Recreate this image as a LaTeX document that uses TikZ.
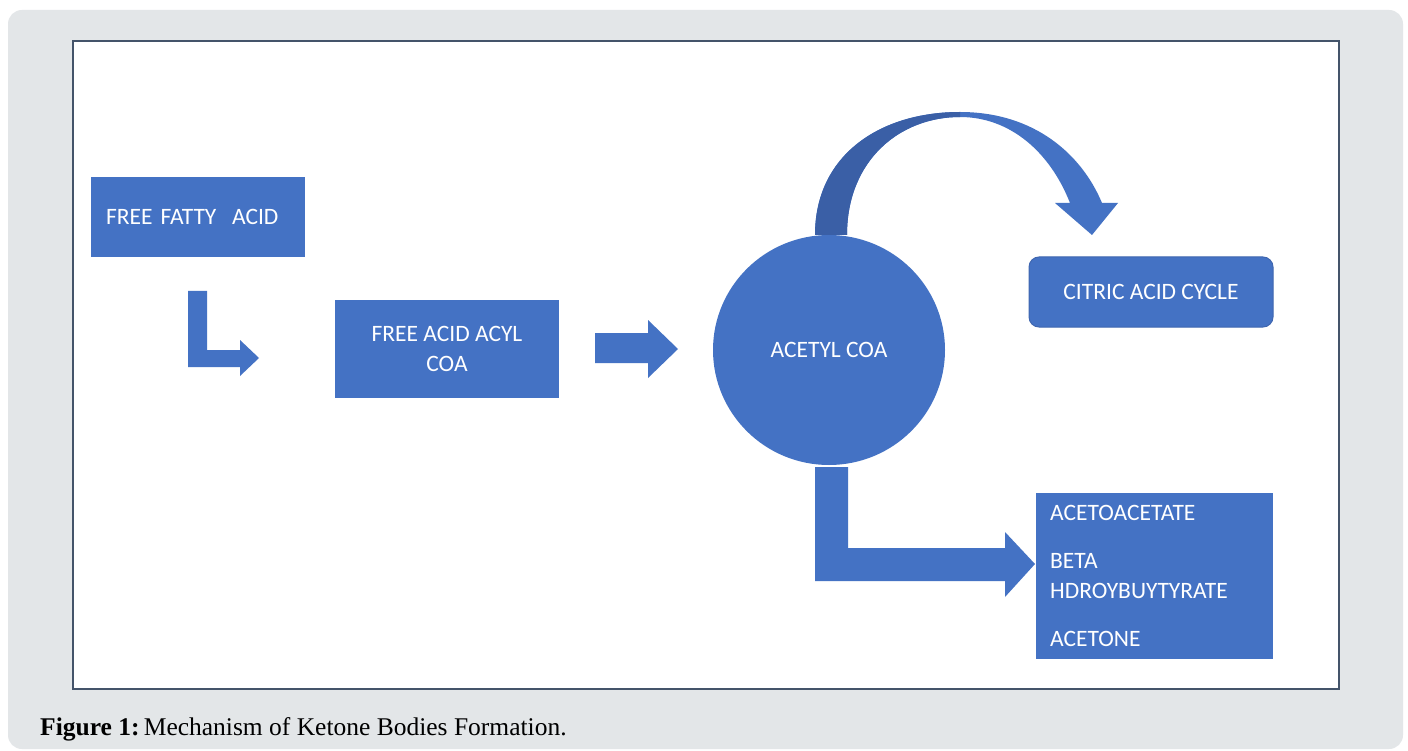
\documentclass[tikz,border=0pt]{standalone}
\usepackage{fontspec}
\setmainfont{Liberation Serif}
\newfontfamily\boxfont{Carlito}
\usetikzlibrary{shapes.geometric}
\definecolor{pptblue}{HTML}{4472C4}
\definecolor{darkarc}{HTML}{3A5FA6}
\definecolor{panel}{HTML}{E3E6E8}
\definecolor{framec}{HTML}{44546A}
\definecolor{boxedge}{HTML}{3F66B0}
\tikzset{
  bluebox/.style={fill=pptblue, text=white, font=\boxfont\fontsize{23.5}{30}\selectfont, inner ysep=0pt},
  blockarrow/.style={fill=pptblue},
}
\begin{document}
\begin{tikzpicture}[x=1pt,y=-1pt]
\useasboundingbox (0,0) rectangle (1408,751);
\fill[white] (0,0) rectangle (1408,751);
\fill[panel, rounded corners=14pt] (8,10) rectangle (1403,749);
\draw[framec, line width=2pt, fill=white] (73,41) rectangle (1339,689);

% nodes
\node[bluebox, anchor=north west, minimum height=80pt, text width=184pt, inner xsep=15pt, align=left] (ffa) at (91,177) {FREE FATTY\ \ ACID};
\node[bluebox, minimum width=224pt, minimum height=98pt, align=center] (acyl) at (447,349) {FREE ACID ACYL\\COA};
\node[bluebox, ellipse, minimum width=232pt, minimum height=230pt, inner sep=0pt] (acetyl) at (829,350) {ACETYL COA};
\node[bluebox, draw=boxedge, line width=1pt, rounded corners=10pt, minimum width=244pt, minimum height=70pt] (citric) at (1151,292) {CITRIC ACID CYCLE};
\node[bluebox, anchor=north west, minimum height=166pt, text width=209pt, inner xsep=14pt, align=left] (ketone) at (1036,493) {ACETOACETATE\\[18pt]BETA\\HDROYBUYTYRATE\\[18pt]ACETONE};

% block arrows
\fill[blockarrow] (188,291) -- (207,291) -- (207,350) -- (240,350) -- (240,340) -- (259,358) -- (240,376) -- (240,367) -- (188,367) -- cycle;
\fill[blockarrow] (595,333) -- (648,333) -- (648,320) -- (678,349) -- (648,378) -- (648,363) -- (595,363) -- cycle;
\fill[blockarrow] (815,467) -- (848,467) -- (848,548) -- (1005,548) -- (1005,532) -- (1035,564) -- (1005,597) -- (1005,581) -- (815,581) -- cycle;

% curved arrow
\fill[pptblue] (815,235) .. controls (815,155) and (880,112) .. (960,112)
  .. controls (1035,112) and (1082,155) .. (1102,203) -- (1118,203) -- (1092,235) -- (1055,203) -- (1070,203)
  .. controls (1050,152) and (1010,117) .. (960,117)
  .. controls (900,117) and (847,160) .. (847,235) -- cycle;
\fill[darkarc] (815,235) .. controls (815,155) and (880,112) .. (960,112) -- (960,117)
  .. controls (900,117) and (847,160) .. (847,235) -- cycle;

% caption
\node[anchor=base west, inner sep=0pt, font=\fontsize{25.5}{30}\selectfont] (cap) at (40,735) {\textbf{Figure 1:}\,Mechanism of Ketone Bodies Formation.};
\end{tikzpicture}
\end{document}
